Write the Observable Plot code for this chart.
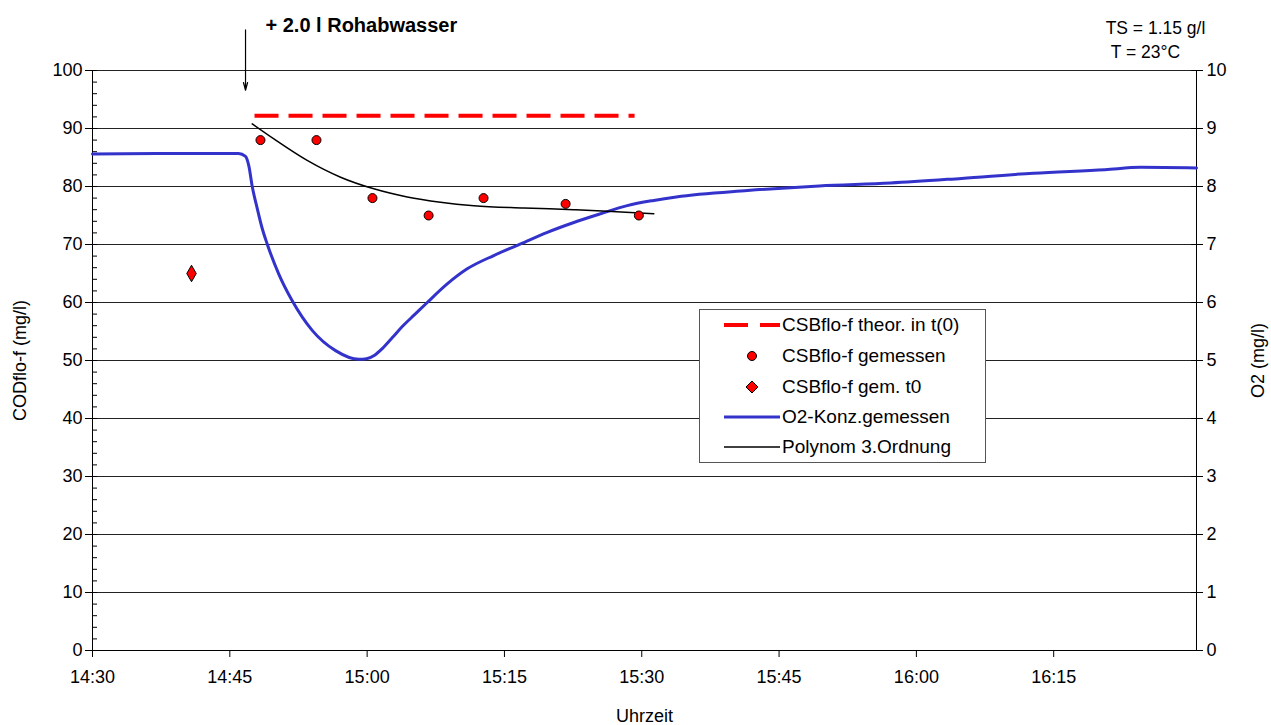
<!DOCTYPE html>
<html><head><meta charset="utf-8">
<script src="https://cdn.jsdelivr.net/npm/d3@7"></script>
<script src="https://cdn.jsdelivr.net/npm/@observablehq/plot@0.6"></script>
<style>
body{margin:0;background:#fff;font-family:"Liberation Sans",Arial,sans-serif;}
#wrap{position:relative;width:1271px;height:725px;}
#legend{position:absolute;left:699px;top:309px;width:287px;height:154px;border:1px solid #555;background:#fff;box-sizing:border-box;}
.row{position:absolute;left:0;height:24px;width:100%;font-size:19px;color:#000;}
.row svg{position:absolute;left:22px;top:0;}
.row span{position:absolute;left:82px;top:1px;white-space:nowrap;}
</style></head><body><div id="wrap"></div>
<script>
// ---- data ----
const xTickLabels = ["14:30","14:45","15:00","15:15","15:30","15:45","16:00","16:15"];
const xDomain = ["14:30:00","16:30:36"];
const codTicks = [0,10,20,30,40,50,60,70,80,90,100];
const o2Ticks = [0,1,2,3,4,5,6,7,8,9,10];

const o2Times = ["14:30:00","14:37:00","14:42:00","14:45:57","14:46:43","14:47:05","14:47:27","14:48:00","14:48:32","14:49:05","14:50:21","14:51:49","14:54:00","14:56:33","14:59:06","14:59:56","15:00:49","15:01:41","15:02:47","15:03:52","15:05:11","15:06:34","15:08:45","15:10:56","15:13:50","15:16:46","15:19:41","15:22:35","15:25:30","15:28:25","15:31:19","15:33:46","15:41:34","15:49:23","15:57:11","16:04:56","16:12:48","16:20:36","16:24:30","16:30:36"];
const o2Values = [8.56,8.57,8.57,8.57,8.52,8.35,8.00,7.62,7.28,7.01,6.49,6.03,5.52,5.17,5.02,5.03,5.09,5.21,5.40,5.59,5.79,6.00,6.32,6.58,6.81,7.01,7.21,7.38,7.53,7.67,7.76,7.82,7.93,8.01,8.06,8.14,8.23,8.29,8.33,8.32];

const csbTimes = ["14:48:21","14:54:28","15:00:35","15:06:43","15:12:43","15:21:41","15:29:41"];
const csbValues = [88,88,78,75,78,77,75];

const csbT0Times = ["14:40:49"];
const csbT0Values = [65];

const theorTimes = ["14:47:42","15:29:13"];
const theorValues = [92.2,92.2];

const polyTimes = ["14:47:27","14:49:49","14:53:27","14:57:06","15:00:44","15:04:23","15:08:01","15:11:40","15:17:07","15:22:35","15:26:14","15:31:19"];
const polyValues = [90.8,88.2,84.5,81.6,79.6,78.2,77.3,76.7,76.3,76.0,75.75,75.3];

const annotationText = "+ 2.0 l Rohabwasser";
const annotationTime = "14:46:43";
const annotationArrow = [107, 96.6];
const infoLines = ["TS = 1.15 g/l","T = 23°C"];

const legendItems = ["CSBflo-f theor. in t(0)","CSBflo-f gemessen","CSBflo-f gem. t0","O2-Konz.gemessen","Polynom 3.Ordnung"];

// ---- helpers ----
const parseT = s => { const [h,m,sec] = s.split(":").map(Number); return new Date(Date.UTC(2000,0,1,h,m,sec||0)); };
const zip = (ts, vs) => ts.map((t,i) => ({t: parseT(t), v: vs[i]}));
const o2Scale = codTicks[codTicks.length-1] / o2Ticks[o2Ticks.length-1];

const o2 = zip(o2Times, o2Values);
const csb = zip(csbTimes, csbValues);
const csbT0 = zip(csbT0Times, csbT0Values);
const theor = zip(theorTimes, theorValues);
const poly = zip(polyTimes, polyValues);
const xTicks = xTickLabels.map(parseT);
const minorTicks = d3.range(0, 101, 2).filter(d => d % 10 !== 0);
const FS = 18;

const chart = Plot.plot({
  width: 1271, height: 725,
  marginLeft: 92, marginRight: 75, marginTop: 70, marginBottom: 75,
  style: {fontFamily: '"Liberation Sans", Arial, sans-serif', fontSize: FS + "px", color: "#000", background: "#fff"},
  x: {type: "utc", domain: xDomain.map(parseT)},
  y: {domain: [0, 100]},
  marks: [
    Plot.gridY(codTicks.filter(d => d > 0), {stroke: "#222", strokeOpacity: 1, strokeWidth: 1}),
    Plot.ruleY([0], {stroke: "#000"}),
    Plot.ruleX([parseT(xDomain[0])], {stroke: "#000"}),
    Plot.ruleX([parseT(xDomain[1])], {stroke: "#000"}),
    Plot.axisX(xTicks, {tickFormat: d3.utcFormat("%H:%M"), tickSize: 7, tickPadding: 13, label: null, fontSize: FS}),
    Plot.axisY(codTicks, {anchor: "left", tickSize: 12, insetLeft: 5, tickPadding: 3, label: null, fontSize: FS}),
    Plot.axisY(minorTicks, {anchor: "left", tickSize: 5, insetLeft: 5, tickFormat: () => "", label: null}),
    Plot.axisY(o2Ticks.map(d => d * o2Scale), {anchor: "right", tickSize: 12, insetRight: 6, tickPadding: 4, tickFormat: d => d / o2Scale, label: null, fontSize: FS}),
    Plot.line(theor, {x: "t", y: "v", stroke: "#ff0000", strokeWidth: 4, strokeDasharray: "24,10", strokeLinecap: "butt"}),
    Plot.line(o2, {x: "t", y: d => d.v * o2Scale, stroke: "#3333cc", strokeWidth: 3, curve: "monotone-x"}),
    Plot.line(poly, {x: "t", y: "v", stroke: "#000", strokeWidth: 1.5, curve: "monotone-x"}),
    Plot.dot(csb, {x: "t", y: "v", r: 4.5, fill: "#ff0000", stroke: "#000", strokeWidth: 1}),
    Plot.dot(csbT0, {x: "t", y: "v", r: 5, symbol: "diamond", fill: "#ff0000", stroke: "#000", strokeWidth: 1}),
    Plot.arrow([annotationTime], {x1: d => parseT(d), x2: d => parseT(d), y1: () => annotationArrow[0], y2: () => annotationArrow[1], stroke: "#000", strokeWidth: 1.2, headLength: 10, headAngle: 30}),
    Plot.text([annotationText], {frameAnchor: "top-left", dx: 173, dy: -45, textAnchor: "start", lineAnchor: "middle", fontWeight: "bold", fontSize: 20}),
    Plot.text([infoLines[0]], {frameAnchor: "top-right", dx: -41, dy: -42, textAnchor: "middle", lineAnchor: "middle", fontSize: 17.5}),
    Plot.text([infoLines[1]], {frameAnchor: "top-right", dx: -51, dy: -18, textAnchor: "middle", lineAnchor: "middle", fontSize: 17.5}),
    Plot.text(["CODflo-f (mg/l)"], {frameAnchor: "left", dx: -72, rotate: -90, textAnchor: "middle", lineAnchor: "middle", fontSize: FS}),
    Plot.text(["O2 (mg/l)"], {frameAnchor: "right", dx: 62, rotate: -90, textAnchor: "middle", lineAnchor: "middle", fontSize: FS}),
    Plot.text(["Uhrzeit"], {frameAnchor: "bottom", dy: 66, textAnchor: "middle", lineAnchor: "middle", fontSize: FS})
  ]
});
const wrap = document.getElementById("wrap");
wrap.appendChild(chart);

// ---- legend ----
const legend = document.createElement("div");
legend.id = "legend";
const symbols = [
  '<svg width="60" height="24"><line x1="2" y1="12" x2="58" y2="12" stroke="#ff0000" stroke-width="4" stroke-dasharray="24,12"/></svg>',
  '<svg width="60" height="24"><circle cx="30" cy="12" r="4.5" fill="#ff0000" stroke="#000" stroke-width="1"/></svg>',
  '<svg width="60" height="24"><path d="M30,6 L36,12 L30,18 L24,12 Z" fill="#ff0000" stroke="#000" stroke-width="1"/></svg>',
  '<svg width="60" height="24"><line x1="2" y1="12" x2="58" y2="12" stroke="#3333cc" stroke-width="3"/></svg>',
  '<svg width="60" height="24"><line x1="2" y1="12" x2="58" y2="12" stroke="#000" stroke-width="1.5"/></svg>'
];
const rowTops = [3, 34, 65, 95, 125];
legendItems.forEach((name, i) => {
  const row = document.createElement("div");
  row.className = "row";
  row.style.top = rowTops[i] + "px";
  row.innerHTML = symbols[i] + "<span></span>";
  row.querySelector("span").textContent = name;
  legend.appendChild(row);
});
wrap.appendChild(legend);
</script>
</body></html>
